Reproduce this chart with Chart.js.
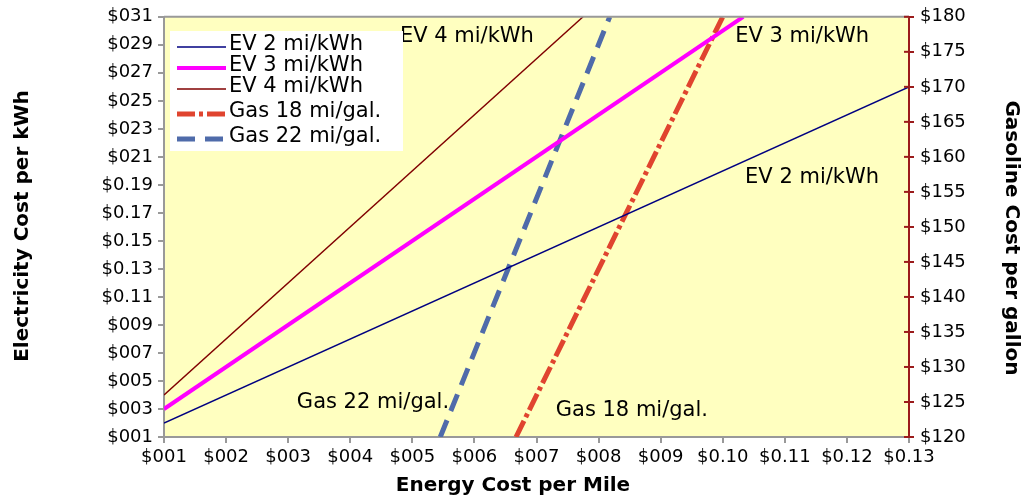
<!DOCTYPE html>
<html>
<head>
<meta charset="utf-8">
<script src="https://cdn.jsdelivr.net/npm/chart.js@4.4.1/dist/chart.umd.min.js"></script>
<style>
  html, body { margin: 0; padding: 0; background: #fff; }
  #wrap { width: 1024px; height: 498px; }
</style>
</head>
<body>
<div id="wrap"><canvas id="costChart" width="1024" height="498"></canvas></div>
<script>
// values
const seriesNames = ['EV 2 mi/kWh', 'EV 3 mi/kWh', 'EV 4 mi/kWh', 'Gas 18 mi/gal.', 'Gas 22 mi/gal.'];
const ev2Miles = [0.01, 0.13];
const ev2Kwh = [0.02, 0.26];
const ev3Miles = [0.01, 0.1033];
const ev3Kwh = [0.03, 0.31];
const ev4Miles = [0.01, 0.0775];
const ev4Kwh = [0.04, 0.31];
const gas18Miles = [0.0667, 0.10];
const gas18Gallon = [1.20, 1.80];
const gas22Miles = [0.0545, 0.0818];
const gas22Gallon = [1.20, 1.80];

const xTickLabels = ['$001', '$002', '$003', '$004', '$005', '$006', '$007', '$008', '$009', '$0.10', '$0.11', '$0.12', '$0.13'];
const leftTickLabels = ['$001', '$003', '$005', '$007', '$009', '$0.11', '$0.13', '$0.15', '$0.17', '$0.19', '$021', '$023', '$025', '$027', '$029', '$031'];
const rightTickLabels = ['$120', '$125', '$130', '$135', '$140', '$145', '$150', '$155', '$160', '$165', '$170', '$175', '$180'];

// in-plot text labels (data units)
const noteTexts = ['EV 4 mi/kWh', 'EV 3 mi/kWh', 'EV 2 mi/kWh', 'Gas 22 mi/gal.', 'Gas 18 mi/gal.'];
const noteX = [0.0480, 0.1020, 0.1036, 0.0314, 0.0731];
const noteY = [0.2960, 0.2960, 0.1953, 0.0343, 0.0286];

function pts(xs, ys) {
  return xs.map((x, i) => ({ x: x, y: ys[i] }));
}

const FONT = '"DejaVu Sans", sans-serif';

const decor = {
  id: 'decor',
  beforeDraw(chart) {
    const { ctx, chartArea: a } = chart;
    ctx.save();
    ctx.fillStyle = '#ffffff';
    ctx.fillRect(0, 0, chart.width, chart.height);
    ctx.fillStyle = '#FFFFC0';
    ctx.fillRect(a.left, a.top, a.right - a.left, a.bottom - a.top);
    ctx.restore();
  },
  afterDraw(chart) {
    const { ctx, chartArea: a, scales } = chart;
    ctx.save();
    // top border
    ctx.strokeStyle = '#999999';
    ctx.lineWidth = 2;
    ctx.beginPath();
    ctx.moveTo(a.left, a.top);
    ctx.lineTo(a.right, a.top);
    ctx.stroke();

    // inner tick stubs on the gasoline axis
    ctx.strokeStyle = '#9B1B1B';
    ctx.lineWidth = 2;
    scales.y2.ticks.forEach((t, i) => {
      const py = scales.y2.getPixelForTick(i);
      ctx.beginPath();
      ctx.moveTo(a.right - 5, py);
      ctx.lineTo(a.right, py);
      ctx.stroke();
    });

    // notes
    ctx.fillStyle = '#000';
    ctx.font = '21px ' + FONT;
    ctx.textBaseline = 'middle';
    ctx.textAlign = 'left';
    noteTexts.forEach((t, i) => {
      const yScale = i < 3 ? scales.y : scales.y;
      ctx.fillText(t, scales.x.getPixelForValue(noteX[i]), yScale.getPixelForValue(noteY[i]));
    });

    // legend box
    const lb = { x: 170, y: 31, w: 233, h: 120 };
    const rows = [47, 68, 89, 114, 139];
    ctx.fillStyle = '#ffffff';
    ctx.fillRect(lb.x, lb.y, lb.w, lb.h);
    chart.data.datasets.forEach((ds, i) => {
      ctx.strokeStyle = ds.borderColor;
      ctx.lineWidth = ds.borderWidth;
      ctx.setLineDash(ds.borderDash || []);
      ctx.beginPath();
      ctx.moveTo(177, rows[i]);
      ctx.lineTo(226, rows[i]);
      ctx.stroke();
      ctx.setLineDash([]);
      ctx.fillStyle = '#000';
      ctx.fillText(ds.label, 229, rows[i] - 2);
    });

    // axis titles
    ctx.font = 'bold 20px ' + FONT;
    ctx.textAlign = 'center';
    ctx.fillText('Energy Cost per Mile', 513, 486);
    ctx.save();
    ctx.translate(23, 226);
    ctx.rotate(-Math.PI / 2);
    ctx.fillText('Electricity Cost per kWh', 0, 0);
    ctx.restore();
    ctx.save();
    ctx.translate(1011, 238);
    ctx.rotate(Math.PI / 2);
    ctx.fillText('Gasoline Cost per gallon', 0, 0);
    ctx.restore();
    ctx.restore();
  }
};

const ctx = document.getElementById('costChart').getContext('2d');
const costChart = new Chart(ctx, {
  type: 'line',
  data: {
    datasets: [
      { label: seriesNames[0], data: pts(ev2Miles, ev2Kwh), yAxisID: 'y', borderColor: '#000080', borderWidth: 1.5 },
      { label: seriesNames[1], data: pts(ev3Miles, ev3Kwh), yAxisID: 'y', borderColor: '#FF00FF', borderWidth: 4 },
      { label: seriesNames[2], data: pts(ev4Miles, ev4Kwh), yAxisID: 'y', borderColor: '#800000', borderWidth: 1.5 },
      { label: seriesNames[3], data: pts(gas18Miles, gas18Gallon), yAxisID: 'y2', borderColor: '#E0442F', borderWidth: 5, borderDash: [18, 4, 4, 4] },
      { label: seriesNames[4], data: pts(gas22Miles, gas22Gallon), yAxisID: 'y2', borderColor: '#4F6BAA', borderWidth: 5, borderDash: [18, 10] }
    ]
  },
  options: {
    responsive: false,
    animation: false,
    devicePixelRatio: 1,
    layout: { padding: { top: 16, left: 0, right: 0, bottom: 0 } },
    elements: { point: { radius: 0 }, line: { tension: 0 } },
    plugins: { legend: { display: false }, tooltip: { enabled: false } },
    scales: {
      x: {
        type: 'linear',
        min: 0.01,
        max: 0.13,
        afterBuildTicks: s => { s.ticks = xTickLabels.map((_, i) => ({ value: 0.01 + i * 0.01 })); },
        afterFit: s => { s.height = 61; },
        ticks: {
          autoSkip: false, maxRotation: 0, padding: 4, color: '#000',
          font: { family: FONT, size: 18 },
          callback: (v, i) => xTickLabels[i]
        },
        grid: { drawOnChartArea: false, tickLength: 6, color: '#999999', lineWidth: 2 },
        border: { color: '#999999', width: 2 }
      },
      y: {
        position: 'left',
        min: 0.01,
        max: 0.31,
        afterBuildTicks: s => { s.ticks = leftTickLabels.map((_, i) => ({ value: 0.01 + i * 0.02 })); },
        afterFit: s => { s.width = 164; },
        ticks: {
          autoSkip: false, padding: 5, color: '#000',
          font: { family: FONT, size: 18 },
          callback: (v, i) => leftTickLabels[i]
        },
        grid: { drawOnChartArea: false, tickLength: 6, color: '#999999', lineWidth: 2 },
        border: { color: '#999999', width: 2 }
      },
      y2: {
        position: 'right',
        min: 1.20,
        max: 1.80,
        afterBuildTicks: s => { s.ticks = rightTickLabels.map((_, i) => ({ value: 1.20 + i * 0.05 })); },
        afterFit: s => { s.width = 115; },
        ticks: {
          autoSkip: false, padding: 6, color: '#000',
          font: { family: FONT, size: 18 },
          callback: (v, i) => rightTickLabels[i]
        },
        grid: { drawOnChartArea: false, tickLength: 5, color: '#9B1B1B', lineWidth: 2 },
        border: { color: '#9B1B1B', width: 2 }
      }
    }
  },
  plugins: [decor]
});
</script>
</body>
</html>
